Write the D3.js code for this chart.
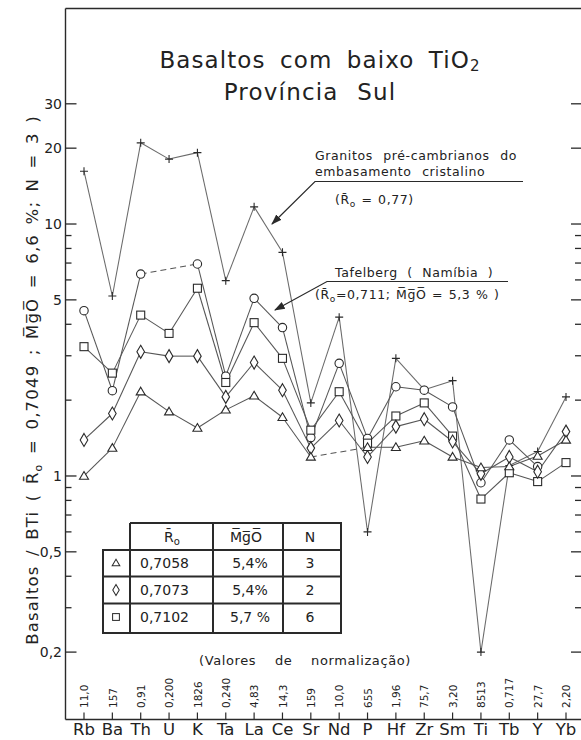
<!DOCTYPE html>
<html>
<head>
<meta charset="utf-8">
<script src="https://cdn.jsdelivr.net/npm/d3@7"></script>
<style>
  html, body { margin: 0; padding: 0; background: #fff; }
  svg { display: block; }
  text { font-family: "DejaVu Sans", sans-serif; fill: #222; }
</style>
</head>
<body>
<svg id="chart" width="581" height="740"></svg>
<script>
// Elements, in spider-diagram order
const elements = ["Rb","Ba","Th","U","K","Ta","La","Ce","Sr","Nd","P","Hf","Zr","Sm","Ti","Tb","Y","Yb"];
// Normalization values printed above each element
const normValues = ["11,0","157","0,91","0,200","1826","0,240","4,83","14,3","159","10,0","655","1,96","75,7","3,20","8513","0,717","27,7","2,20"];

// Low-TiO2 basalt groups (normalized to BTi); null = not determined
const basaltA = [1.00,1.29,2.16,1.80,1.55,1.83,2.08,1.71,1.19,null,1.30,1.30,1.38,1.19,1.08,1.09,1.20,1.39]; // triangle, Ro 0,7058
const basaltB = [1.39,1.77,3.11,2.99,2.99,2.06,2.82,2.19,1.29,1.66,1.19,1.57,1.68,1.37,1.02,1.19,1.04,1.50]; // diamond, Ro 0,7073
const basaltC = [3.26,2.56,4.35,3.68,5.56,2.35,4.06,2.93,1.52,2.16,1.35,1.73,1.95,1.44,0.81,1.03,0.95,1.13]; // square, Ro 0,7102
// Reference patterns
const tafelberg = [4.53,2.18,6.33,null,6.94,2.49,5.07,3.88,1.42,2.80,1.41,2.26,2.19,1.88,0.94,1.39,1.09,null]; // circle
const granitos = [16.2,5.18,21.0,18.1,19.2,5.96,11.7,7.72,1.95,4.27,0.60,2.93,2.20,2.39,0.20,1.10,1.25,2.06]; // plus

// Y axis ticks
const majorTicks = [30,20,10,5,1,0.5,0.2];
const majorLabels = ["30","20","10","5","1","0,5","0,2"];
const minorTicks = [9,8,7,6,4,3,2,0.9,0.8,0.7,0.6,0.4,0.3];

// Legend table rows
const tableRo = ["0,7058","0,7073","0,7102"];
const tableMgO = ["5,4%","5,4%","5,7 %"];
const tableN = ["3","2","6"];

const svg = d3.select("#chart");
const ink = "#2a2a2a";
const lineInk = "#555";

const axisLeft = 65.5, axisRight = 581, axisTop = 8.5, axisBottom = 719.5;

const x = d3.scalePoint().domain(elements).range([84, 566]);
const y = d3.scaleLog().domain([0.2, 30]).range([652.1, 103.8]);

// Frame
const frame = svg.append("g").attr("stroke", ink).attr("stroke-width", 1.4).attr("fill", "none");
frame.append("line").attr("x1", axisLeft).attr("x2", axisLeft).attr("y1", axisTop).attr("y2", axisBottom);
frame.append("line").attr("x1", axisLeft).attr("x2", axisRight).attr("y1", axisTop).attr("y2", axisTop);
frame.append("line").attr("x1", axisLeft).attr("x2", axisRight).attr("y1", axisBottom).attr("y2", axisBottom);

// Left and right axis ticks (inward)
const yt = svg.append("g").attr("stroke", ink).attr("stroke-width", 1.3);
majorTicks.forEach(v => {
  yt.append("line").attr("x1", axisLeft).attr("x2", axisLeft + 11).attr("y1", y(v)).attr("y2", y(v));
  yt.append("line").attr("x1", axisRight).attr("x2", axisRight - 10).attr("y1", y(v)).attr("y2", y(v));
});
minorTicks.forEach(v => {
  yt.append("line").attr("x1", axisLeft).attr("x2", axisLeft + 6).attr("y1", y(v)).attr("y2", y(v));
  yt.append("line").attr("x1", axisRight).attr("x2", axisRight - 6).attr("y1", y(v)).attr("y2", y(v));
});
svg.append("g").selectAll("text").data(majorTicks).join("text")
  .attr("x", 62).attr("y", d => y(d)).attr("dy", "0.36em")
  .attr("text-anchor", "end").attr("font-size", 14)
  .text((d, i) => majorLabels[i]);

// Bottom axis ticks and element labels
const xt = svg.append("g");
elements.forEach(e => {
  xt.append("line").attr("x1", x(e)).attr("x2", x(e)).attr("y1", axisBottom).attr("y2", axisBottom - 7)
    .attr("stroke", ink).attr("stroke-width", 1.2);
});
xt.selectAll("text.el").data(elements).join("text").attr("class", "el")
  .attr("x", d => x(d)).attr("y", 735).attr("text-anchor", "middle").attr("font-size", 16.5)
  .text(d => d);
xt.selectAll("text.nv").data(elements).join("text").attr("class", "nv")
  .attr("transform", d => `translate(${x(d) + 0.5},708) rotate(-90)`)
  .attr("dy", "0.35em").attr("font-size", 10.5)
  .text((d, i) => normValues[i]);
svg.append("text").attr("x", 305).attr("y", 665).attr("text-anchor", "middle")
  .attr("font-size", 13).attr("word-spacing", 14).attr("letter-spacing", 0.6)
  .text("(Valores de normalização)");

// Series lines: solid between neighbours, dashed across a missing element
function drawSeries(vals, stroke) {
  const g = svg.append("g").attr("fill", "none").attr("stroke", stroke).attr("stroke-width", 1.05);
  const idx = vals.map((v, i) => v == null ? -1 : i).filter(i => i >= 0);
  for (let k = 0; k < idx.length - 1; k++) {
    const a = idx[k], b = idx[k + 1];
    g.append("line")
      .attr("x1", x(elements[a])).attr("y1", y(vals[a]))
      .attr("x2", x(elements[b])).attr("y2", y(vals[b]))
      .attr("stroke-dasharray", b - a > 1 ? "6,4" : null);
  }
}
drawSeries(granitos, "#6a6a6a");
drawSeries(tafelberg, lineInk);
drawSeries(basaltC, lineInk);
drawSeries(basaltB, lineInk);
drawSeries(basaltA, lineInk);

// Marker shapes
const shapes = {
  triangle: (g) => g.append("path").attr("d", "M0,-4.5L4.5,3.2L-4.5,3.2Z"),
  diamond: (g) => g.append("path").attr("d", "M0,-6.5L3.8,0L0,6.5L-3.8,0Z"),
  square: (g) => g.append("rect").attr("x", -4).attr("y", -4).attr("width", 8).attr("height", 8),
  circle: (g) => g.append("circle").attr("r", 4.2),
  plus: (g) => g.append("path").attr("d", "M-4,0H4M0,-4V4")
};
function drawMarkers(vals, shape) {
  const g = svg.append("g").attr("fill", "#fff").attr("stroke", ink).attr("stroke-width", 1.1);
  vals.forEach((v, i) => {
    if (v == null) return;
    const m = g.append("g").attr("transform", `translate(${x(elements[i])},${y(v)})`);
    shapes[shape](m);
  });
}
drawMarkers(granitos, "plus");
drawMarkers(tafelberg, "circle");
drawMarkers(basaltC, "square");
drawMarkers(basaltB, "diamond");
drawMarkers(basaltA, "triangle");

// Title
svg.append("text").attr("x", 320).attr("y", 68).attr("text-anchor", "middle")
  .attr("font-size", 23).attr("letter-spacing", 1.1).attr("word-spacing", 6)
  .call(t => {
    t.append("tspan").text("Basaltos com baixo TiO");
    t.append("tspan").attr("font-size", 15).attr("dy", 3).text("2");
  });
svg.append("text").attr("x", 310).attr("y", 100).attr("text-anchor", "middle")
  .attr("font-size", 23).attr("letter-spacing", 1.2).attr("word-spacing", 10)
  .text("Província Sul");

// Rotated y-axis title
svg.append("text").attr("transform", "translate(38,380) rotate(-90)")
  .attr("text-anchor", "middle").attr("font-size", 16.5).attr("letter-spacing", 1.2).attr("word-spacing", 3)
  .call(t => {
    t.append("tspan").text("Basaltos / BTi ( R\u0304");
    t.append("tspan").attr("font-size", 11).attr("dy", 4).text("o");
    t.append("tspan").attr("dy", -4).text(" = 0,7049 ; M\u0305g\u0305O\u0305 = 6,6 %; N = 3 )");
  });

// Annotations with leader arrows
svg.append("defs").append("marker").attr("id", "arrow")
  .attr("viewBox", "0 0 10 10").attr("refX", 9).attr("refY", 5)
  .attr("markerWidth", 9).attr("markerHeight", 9).attr("orient", "auto")
  .append("path").attr("d", "M0,1.5L10,5L0,8.5Z").attr("fill", ink);
const ann = svg.append("g").attr("stroke", ink).attr("stroke-width", 1.2).attr("fill", "none");
ann.append("polyline").attr("points", "523,181.5 315,181.5 272,224").attr("marker-end", "url(#arrow)");
ann.append("polyline").attr("points", "508,281.5 327,281.5 275,310").attr("marker-end", "url(#arrow)");

const annText = svg.append("g").attr("font-size", 12.5).attr("letter-spacing", 0.6);
annText.append("text").attr("x", 315).attr("y", 160).attr("word-spacing", 6).text("Granitos pré-cambrianos do");
annText.append("text").attr("x", 315).attr("y", 176).attr("word-spacing", 6).text("embasamento cristalino");
annText.append("text").attr("x", 335).attr("y", 204).attr("word-spacing", 1).call(t => {
  t.append("tspan").text("(R\u0304");
  t.append("tspan").attr("font-size", 9).attr("dy", 3).text("o");
  t.append("tspan").attr("dy", -3).text(" = 0,77)");
});
annText.append("text").attr("x", 335).attr("y", 277).attr("word-spacing", 5).text("Tafelberg  ( Namíbia )");
annText.append("text").attr("x", 315).attr("y", 299).attr("word-spacing", 1).call(t => {
  t.append("tspan").text("(R\u0304");
  t.append("tspan").attr("font-size", 9).attr("dy", 3).text("o");
  t.append("tspan").attr("dy", -3).text("=0,711; M\u0305g\u0305O\u0305 = 5,3 % )");
});

// Legend table
const tb = svg.append("g").attr("stroke", ink).attr("stroke-width", 2).attr("fill", "none");
tb.append("path").attr("d",
  "M130,523H341V633H103V550H341" +
  "M130,523V633M213,523V633M283,523V633" +
  "M103,576.5H341M103,603.5H341");
const tt = svg.append("g").attr("font-size", 14);
tt.append("text").attr("x", 172).attr("y", 542).attr("text-anchor", "middle").call(t => {
  t.append("tspan").text("R\u0304");
  t.append("tspan").attr("font-size", 10).attr("dy", 3).text("o");
});
tt.append("text").attr("x", 246).attr("y", 542).attr("text-anchor", "middle").text("M\u0305g\u0305O\u0305");
tt.append("text").attr("x", 310).attr("y", 542).attr("text-anchor", "middle").text("N");
const rowY = [563, 590, 617];
const rowShapes = ["triangle", "diamond", "square"];
rowY.forEach((ry, i) => {
  const m = svg.append("g").attr("transform", `translate(116,${ry}) scale(0.85)`)
    .attr("fill", "#fff").attr("stroke", ink).attr("stroke-width", 1.2);
  shapes[rowShapes[i]](m);
  tt.append("text").attr("x", 140).attr("y", ry + 5).text(tableRo[i]);
  tt.append("text").attr("x", 250).attr("y", ry + 5).attr("text-anchor", "middle").text(tableMgO[i]);
  tt.append("text").attr("x", 310).attr("y", ry + 5).attr("text-anchor", "middle").text(tableN[i]);
});
</script>
</body>
</html>
